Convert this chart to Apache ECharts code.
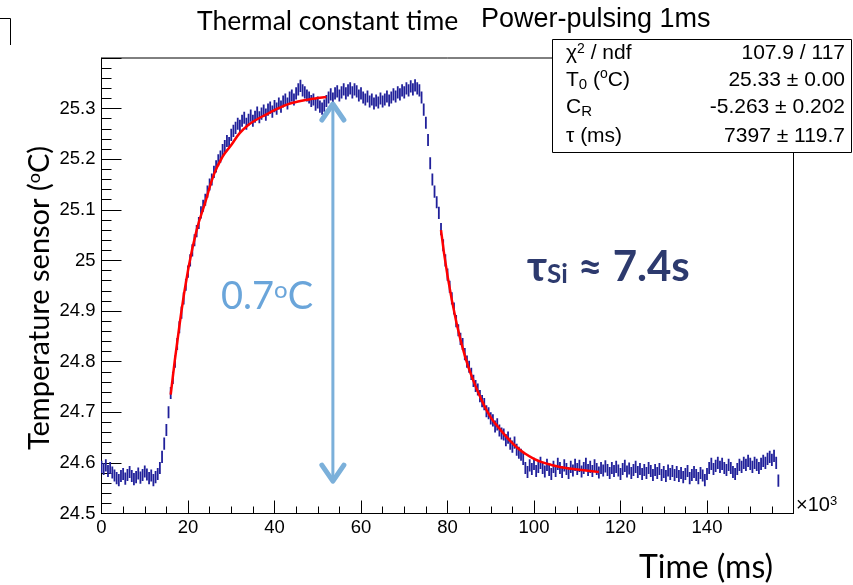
<!DOCTYPE html>
<html>
<head>
<meta charset="utf-8">
<script src="https://cdn.jsdelivr.net/npm/echarts/dist/echarts.min.js"></script>
<style>
html,body{margin:0;padding:0;background:#fff;}
#chart{width:853px;height:585px;}
</style>
</head>
<body>
<div id="chart"></div>
<script>
// ---- data (time in units of 10^3 ms) ----
const sampleStart = 0;
const sampleStep = 0.5;
const temperature = [
  24.592,24.588,24.595,24.584,24.590,24.581,24.575,24.570,24.566,24.574,
  24.578,24.569,24.576,24.582,24.574,24.568,24.572,24.579,24.571,24.576,
  24.583,24.577,24.570,24.575,24.566,24.572,24.578,24.590,24.612,24.638,
  24.665,24.700,24.738,24.768,24.800,24.835,24.868,24.897,24.925,24.952,
  24.978,25.000,25.020,25.040,25.058,25.074,25.095,25.108,25.120,25.136,
  25.150,25.160,25.175,25.186,25.198,25.205,25.218,25.226,25.236,25.232,
  25.248,25.256,25.262,25.270,25.266,25.276,25.282,25.270,25.278,25.286,
  25.276,25.284,25.292,25.283,25.290,25.296,25.288,25.298,25.302,25.294,
  25.305,25.300,25.310,25.304,25.314,25.318,25.310,25.322,25.326,25.318,
  25.330,25.338,25.345,25.336,25.332,25.326,25.322,25.315,25.318,25.308,
  25.312,25.304,25.300,25.306,25.315,25.322,25.328,25.320,25.330,25.334,
  25.326,25.332,25.338,25.330,25.336,25.340,25.332,25.338,25.334,25.326,
  25.330,25.322,25.318,25.324,25.314,25.318,25.310,25.316,25.312,25.320,
  25.314,25.318,25.324,25.316,25.322,25.328,25.324,25.332,25.328,25.336,
  25.332,25.340,25.336,25.344,25.338,25.346,25.340,25.336,25.322,25.298,
  25.272,25.238,25.192,25.160,25.136,25.115,25.094,25.062,25.030,25.000,
  24.972,24.948,24.925,24.905,24.880,24.862,24.845,24.835,24.815,24.800,
  24.790,24.776,24.762,24.752,24.745,24.732,24.722,24.716,24.702,24.698,
  24.688,24.684,24.672,24.676,24.664,24.658,24.656,24.645,24.650,24.638,
  24.632,24.640,24.626,24.620,24.616,24.608,24.590,24.582,24.595,24.588,
  24.598,24.584,24.592,24.600,24.590,24.583,24.596,24.586,24.578,24.592,
  24.584,24.598,24.590,24.582,24.595,24.588,24.580,24.592,24.585,24.596,
  24.588,24.594,24.583,24.590,24.598,24.586,24.592,24.584,24.595,24.588,
  24.581,24.590,24.585,24.593,24.586,24.580,24.590,24.584,24.592,24.585,
  24.578,24.588,24.594,24.583,24.589,24.580,24.586,24.592,24.582,24.588,
  24.578,24.586,24.580,24.590,24.584,24.576,24.586,24.580,24.588,24.576,
  24.582,24.574,24.585,24.578,24.584,24.576,24.582,24.574,24.580,24.572,
  24.578,24.584,24.570,24.576,24.582,24.576,24.570,24.580,24.575,24.566,
  24.578,24.590,24.598,24.588,24.594,24.600,24.592,24.598,24.590,24.586,
  24.596,24.590,24.582,24.578,24.588,24.596,24.592,24.600,24.596,24.604,
  24.598,24.592,24.600,24.596,24.590,24.598,24.604,24.600,24.608,24.612,
  24.606,24.614,24.600,24.565
];
const errHalf = 0.012;

const fitRiseTime = [16,18,20,22,24,26,28,30,32,34,36,38,40,42,44,46,48,50,52];
const fitRiseTemp = [24.735,24.870,24.980,25.060,25.115,25.170,25.205,25.228,25.252,25.268,25.279,25.288,25.297,25.305,25.311,25.315,25.318,25.321,25.323];
const fitFallTime = [78.5,80,82,84,86,88,90,92,94,96,98,100,102,104,106,108,110,112,114,115];
const fitFallTemp = [25.060,24.970,24.880,24.812,24.762,24.722,24.690,24.668,24.648,24.631,24.618,24.608,24.601,24.596,24.592,24.589,24.587,24.585,24.583,24.582];

// annotation arrow: [time, lowTemp, highTemp]
const arrowSpan = [53.5, 24.558, 25.315];

const xTicks = {min: 0, max: 160, interval: 20};
const yTicks = {min: 24.5, max: 25.4, interval: 0.1};

const statsLabels = ['{n|χ}{sup|2}{n| / ndf}', '{n|T}{sub|0}{n| (}{sup|o}{n|C)}', '{n|C}{sub|R}', '{n|τ (ms)}'];
const statsValues = ['107.9 / 117', '25.33 ± 0.00', '-5.263 ± 0.202', '7397 ± 119.7'];

// ---- build ----
const pts = temperature.map((v, i) => [sampleStart + i * sampleStep, v]);
const chart = echarts.init(document.getElementById('chart'), null, {renderer: 'canvas'});
const labelFont = {fontFamily: 'Liberation Sans', fontSize: 18.5, color: '#000'};
const statRich = {
  n: {fontFamily: 'Liberation Sans', fontSize: 21, fill: '#000'},
  sup: {fontFamily: 'Liberation Sans', fontSize: 14, fill: '#000', verticalAlign: 'top', lineHeight: 14},
  sub: {fontFamily: 'Liberation Sans', fontSize: 15, fill: '#000', verticalAlign: 'bottom', padding: [10,0,0,0]}
};
const statRows = [53, 80, 107, 136];
const blue = '#6aa5da';
const navy = '#2d3a6e';
const graphics = [
  {type: 'polyline', shape: {points: [[0, 18.5], [10.5, 18.5], [10.5, 45]]}, style: {stroke: '#000', lineWidth: 1, fill: null}},
  {type: 'text', x: 197, y: 21, style: {text: 'Thermal constant time', font: '26.5px Lato', fill: '#000', textVerticalAlign: 'middle'}},
  {type: 'text', x: 481, y: 20, style: {text: 'Power-pulsing 1ms', font: '27px "Liberation Sans"', fill: '#000', textVerticalAlign: 'middle'}},
  {type: 'rect', z: 50, shape: {x: 552.5, y: 39.5, width: 299, height: 113}, style: {fill: '#fff', stroke: '#000', lineWidth: 1}},
  {type: 'text', x: 796, y: 505, style: {text: '{n|×10}{sup|3}', rich: {n: {fontFamily: 'Liberation Sans', fontSize: 20, fill: '#000'}, sup: {fontFamily: 'Liberation Sans', fontSize: 13, fill: '#000', verticalAlign: 'top'}}, textVerticalAlign: 'middle'}},
  {type: 'text', x: 40, y: 298, rotation: Math.PI / 2, style: {text: '{a|Temperature sensor (}{s|o}{a|C)}', rich: {a: {fontFamily: 'Lato', fontSize: 29, fill: '#000'}, s: {fontFamily: 'Lato', fontSize: 18, fill: '#000', verticalAlign: 'top'}}, textAlign: 'center', textVerticalAlign: 'middle'}},
  {type: 'text', x: 706, y: 568, style: {text: 'Time (ms)', font: '32px Lato', fill: '#000', textAlign: 'center', textVerticalAlign: 'middle'}},
  {type: 'text', x: 221, y: 297, z: 60, style: {text: '{a|0.7}{s|o}{a|C}', rich: {a: {fontFamily: 'Lato', fontSize: 38, fill: blue}, s: {fontFamily: 'Lato', fontSize: 24, fill: blue, verticalAlign: 'top'}}, textVerticalAlign: 'middle'}},
  {type: 'text', x: 527, y: 267, z: 60, style: {text: '{a|τ}{s|Si}{a| ≈ 7.4s}', rich: {a: {fontFamily: 'Lato', fontWeight: 'bold', fontSize: 42, fill: navy}, s: {fontFamily: 'Lato', fontWeight: 'bold', fontSize: 26, fill: navy, verticalAlign: 'bottom'}}, textVerticalAlign: 'middle'}}
];
statsLabels.forEach((t, i) => {
  graphics.push({type: 'text', z: 51, x: 566, y: statRows[i], style: {text: t, rich: statRich, textVerticalAlign: 'middle'}});
  graphics.push({type: 'text', z: 51, x: 845, y: statRows[i], style: {text: statsValues[i], font: '21px "Liberation Sans"', fill: '#000', textAlign: 'right', textVerticalAlign: 'middle'}});
});

chart.setOption({
  animation: false,
  backgroundColor: '#fff',
  grid: {left: 101.5, top: 58, width: 692, height: 455.5, show: true, borderColor: '#000', borderWidth: 1, containLabel: false},
  xAxis: {
    type: 'value', min: xTicks.min, max: xTicks.max, interval: xTicks.interval,
    axisLine: {show: true, lineStyle: {color: '#000', width: 1}},
    axisTick: {show: true, inside: true, length: 13, lineStyle: {color: '#000'}},
    minorTick: {show: true, splitNumber: 4, length: 7, lineStyle: {color: '#000'}},
    splitLine: {show: false},
    axisLabel: Object.assign({margin: 5, showMaxLabel: false}, labelFont)
  },
  yAxis: {
    type: 'value', min: yTicks.min, max: yTicks.max, interval: yTicks.interval,
    axisLine: {show: true, lineStyle: {color: '#000', width: 1}},
    axisTick: {show: true, inside: true, length: 20, lineStyle: {color: '#000'}},
    minorTick: {show: true, splitNumber: 5, length: 10, lineStyle: {color: '#000'}},
    splitLine: {show: false},
    axisLabel: Object.assign({margin: 6, showMaxLabel: false, formatter: v => String(Math.round(v * 10) / 10)}, labelFont)
  },
  series: [
    {
      type: 'custom', name: 'data', data: pts, clip: true, z: 2,
      encode: {x: 0, y: 1},
      renderItem: (params, api) => {
        const x = api.value(0), v = api.value(1);
        const a = api.coord([x, v + errHalf]), b = api.coord([x, v - errHalf]);
        return {type: 'line', shape: {x1: a[0], y1: a[1], x2: b[0], y2: b[1]}, style: {stroke: '#20209a', lineWidth: 1.8}};
      }
    },
    {type: 'line', name: 'fitRise', data: fitRiseTime.map((t, i) => [t, fitRiseTemp[i]]), smooth: true, showSymbol: false, symbol: 'none', z: 3,
     lineStyle: {color: '#ff0000', width: 2.5}},
    {type: 'line', name: 'fitFall', data: fitFallTime.map((t, i) => [t, fitFallTemp[i]]), smooth: true, showSymbol: false, symbol: 'none', z: 3,
     lineStyle: {color: '#ff0000', width: 2.5}},
    {
      type: 'custom', name: 'arrow', data: [arrowSpan], z: 4, clip: false,
      encode: {x: 0, y: [1, 2]},
      renderItem: (params, api) => {
        const lo = api.coord([api.value(0), api.value(1)]);
        const hi = api.coord([api.value(0), api.value(2)]);
        const col = '#7bb0da';
        return {type: 'group', children: [
          {type: 'line', shape: {x1: hi[0], y1: hi[1] + 3, x2: lo[0], y2: lo[1] - 3}, style: {stroke: col, lineWidth: 3}},
          {type: 'polyline', shape: {points: [[hi[0] - 11, hi[1] + 19], [hi[0], hi[1] + 3], [hi[0] + 11, hi[1] + 19]]}, style: {stroke: col, lineWidth: 5, fill: null, lineCap: 'round', lineJoin: 'round'}},
          {type: 'polyline', shape: {points: [[lo[0] - 11, lo[1] - 19], [lo[0], lo[1] - 3], [lo[0] + 11, lo[1] - 19]]}, style: {stroke: col, lineWidth: 5, fill: null, lineCap: 'round', lineJoin: 'round'}}
        ]};
      }
    }
  ],
  graphic: graphics
});
</script>
</body>
</html>
